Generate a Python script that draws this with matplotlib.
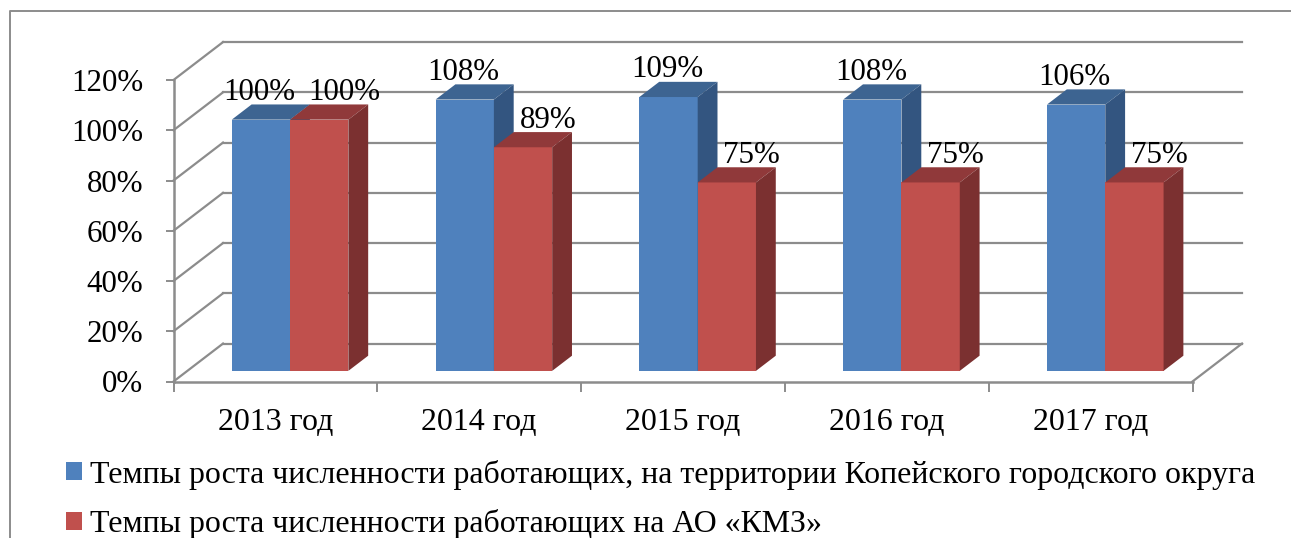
import matplotlib
matplotlib.use('Agg')
import matplotlib.pyplot as plt
from matplotlib.lines import Line2D
from matplotlib.patches import Patch, Polygon

plt.rcParams['font.family'] = ['Liberation Serif', 'DejaVu Serif']

years = ['2013 год', '2014 год', '2015 год', '2016 год', '2017 год']
kopeysk = [100, 108, 109, 108, 106]
kmz = [100, 89, 75, 75, 75]
yticks = [0, 20, 40, 60, 80, 100, 120]
legend_labels = ['Темпы роста численности работающих, на территории Копейского городского округа',
                 'Темпы роста численности работающих на АО «КМЗ»']

GREY = '#8c8c8c'
FONT = 22.3
FONT_BIG = 22.95

# back wall offset, in data units (one category wide, percent high)
WALL_DX = 0.243
WALL_DY = 15.1
BAR_W = 0.286
FRONT = 0.28
BACK = 0.68


def shift(x, y, depth):
    return x + depth * WALL_DX, y + depth * WALL_DY


def bar3d(ax, left, value, front, top, side):
    right = left + BAR_W
    ax.add_patch(Polygon([shift(left, 0, FRONT), shift(right, 0, FRONT),
                          shift(right, value, FRONT), shift(left, value, FRONT)],
                         fc=front, ec='none', clip_on=False, zorder=3))
    ax.add_patch(Polygon([shift(left, value, FRONT), shift(right, value, FRONT),
                          shift(right, value, BACK), shift(left, value, BACK)],
                         fc=top, ec='none', clip_on=False, zorder=3))
    ax.add_patch(Polygon([shift(right, 0, FRONT), shift(right, 0, BACK),
                          shift(right, value, BACK), shift(right, value, FRONT)],
                         fc=side, ec='none', clip_on=False, zorder=3))


fig = plt.figure(figsize=(12.91, 5.38), dpi=100)
ax = fig.add_axes([173.5 / 1291, 1 - 381.5 / 538, 1019 / 1291, 301.5 / 538])
ax.patch.set_visible(False)
ax.set_xlim(0, len(years))
ax.set_ylim(0, 120)

# outer chart frame, runs off the right and bottom of the picture
fig.add_artist(Line2D([10 / 1291, 10 / 1291, 1], [0, 1 - 11 / 538, 1 - 11 / 538], color=GREY, lw=1.4))

# back wall gridlines and diagonals
n = len(years)
for v in yticks:
    bx, by = shift(0, v, 1)
    ex, ey = shift(n, v, 1)
    ax.plot([bx, ex], [by, ey], color=GREY, lw=1.6, clip_on=False, zorder=1)
    ax.plot([0, bx], [v, by], color=GREY, lw=1.6, clip_on=False, zorder=1)
ex, ey = shift(n, 0, 1)
ax.plot([n, ex], [0, ey], color=GREY, lw=1.6, clip_on=False, zorder=1)

for i in range(n):
    left = i + 0.504 - BAR_W
    bar3d(ax, left, kopeysk[i], '#4F81BD', '#3D6491', '#335580')
    bar3d(ax, left + BAR_W, kmz[i], '#C0504D', '#90393A', '#7B3030')
    x, y = shift(left + BAR_W / 2, kopeysk[i], FRONT)
    ax.annotate(f'{kopeysk[i]}%', (x, y), xytext=(-1, 19.8), textcoords='offset points',
                ha='center', va='center', fontsize=FONT, color='black', zorder=5)
    x, y = shift(left + BAR_W * 1.5, kmz[i], FRONT)
    ax.annotate(f'{kmz[i]}%', (x, y), xytext=(18, 19.5), textcoords='offset points',
                ha='center', va='center', fontsize=FONT, color='black', zorder=5)

for name in ['top', 'right']:
    ax.spines[name].set_visible(False)
for name in ['left', 'bottom']:
    ax.spines[name].set_color(GREY)
    ax.spines[name].set_linewidth(1.8)

ax.set_yticks(yticks, [f'{v}%' for v in yticks])
ax.tick_params(axis='y', length=6, width=1.4, color=GREY, pad=16, labelsize=FONT)
ax.set_xticks(range(n + 1), [''] * (n + 1))
ax.tick_params(axis='x', which='major', length=7, width=1.4, color=GREY)
ax.set_xticks([i + 0.5 for i in range(n)], years, minor=True)
ax.tick_params(axis='x', which='minor', length=0, pad=19, labelsize=FONT_BIG)

handles = [Patch(fc='#4F81BD', ec='none'), Patch(fc='#C0504D', ec='none')]
fig.legend(handles, legend_labels, loc='upper left', bbox_to_anchor=(66 / 1291, 1 - 459.5 / 538),
           frameon=False, fontsize=FONT_BIG, borderpad=0, borderaxespad=0, handlelength=0.5,
           handleheight=0.5, handletextpad=0.25, labelspacing=0.62)

plt.savefig('out.png', dpi=100)
